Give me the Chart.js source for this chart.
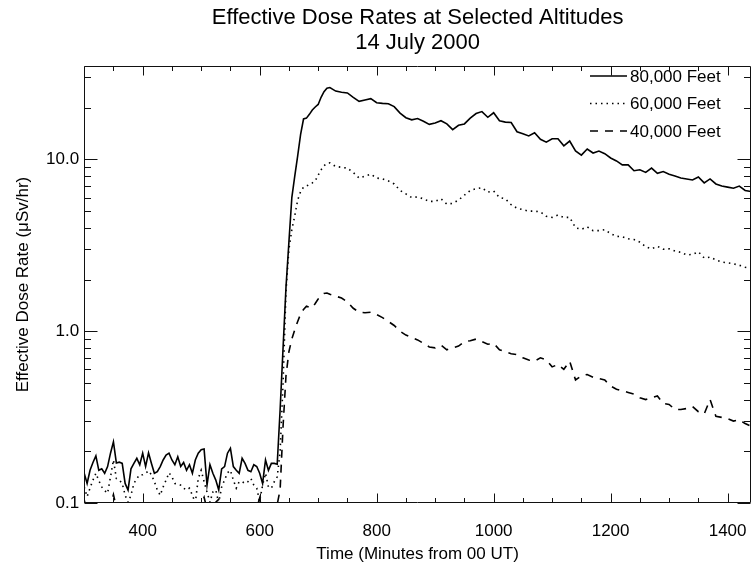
<!DOCTYPE html>
<html>
<head>
<meta charset="utf-8">
<title>Effective Dose Rates at Selected Altitudes</title>
<script src="https://cdn.jsdelivr.net/npm/chart.js@4.4.1/dist/chart.umd.min.js"></script>
<style>
  html, body { margin: 0; padding: 0; background: #fff; }
</style>
</head>
<body>
<canvas id="grafico" width="751" height="567"></canvas>
<script>
// minutos desde 00 UT (passo de 5 min ate 720, depois 10 min)
const minutos = [
  300, 305, 310, 315, 320, 325, 330, 335, 340, 345,
  350, 355, 360, 365, 370, 375, 380, 385, 390, 395,
  400, 405, 410, 415, 420, 425, 430, 435, 440, 445,
  450, 455, 460, 465, 470, 475, 480, 485, 490, 495,
  500, 505, 510, 515, 520, 525, 530, 535, 540, 545,
  550, 555, 560, 565, 570, 575, 580, 585, 590, 595,
  600, 605, 610, 615, 620, 625, 630, 635, 640, 645,
  650, 655, 660, 665, 670, 675, 680, 685, 690, 695,
  700, 705, 710, 715, 720,
  730, 740, 750, 760, 770, 780, 790, 800, 810, 820,
  830, 840, 850, 860, 870, 880, 890, 900, 910, 920,
  930, 940, 950, 960, 970, 980, 990, 1000, 1010, 1020,
  1030, 1040, 1050, 1060, 1070, 1080, 1090, 1100, 1110, 1120,
  1130, 1140, 1150, 1160, 1170, 1180, 1190, 1200, 1210, 1220,
  1230, 1240, 1250, 1260, 1270, 1280, 1290, 1300, 1310, 1320,
  1330, 1340, 1350, 1360, 1370, 1380, 1390, 1400, 1410, 1420,
  1430, 1440
];

// 80,000 pes (linha cheia)
const dose80k = [
  0.149, 0.130, 0.155, 0.172, 0.188, 0.155, 0.158, 0.149, 0.163, 0.195,
  0.227, 0.171, 0.173, 0.170, 0.130, 0.119, 0.158, 0.170, 0.182, 0.167,
  0.195, 0.163, 0.196, 0.170, 0.149, 0.152, 0.163, 0.178, 0.190, 0.195,
  0.178, 0.167, 0.186, 0.163, 0.172, 0.155, 0.167, 0.149, 0.178, 0.195,
  0.204, 0.206, 0.127, 0.167, 0.149, 0.136, 0.119, 0.158, 0.163, 0.195,
  0.208, 0.163, 0.155, 0.149, 0.182, 0.170, 0.155, 0.152, 0.167, 0.163,
  0.149, 0.130, 0.178, 0.155, 0.170, 0.170, 0.168,
  0.35, 0.8, 1.8, 3.3, 6.0, 8.0, 10.5, 14.0, 17.2, 17.4,
  18.3, 19.4, 20.2, 20.9, 23.0, 24.8, 26.0, 26.2,
  25.0, 24.6, 24.4, 23.0, 21.8, 22.2, 22.6, 21.4, 21.2, 21.1,
  20.3, 18.6, 17.5, 17.0, 17.3, 16.7, 16.0, 16.3, 16.8, 16.1,
  14.9, 15.8, 16.1, 17.4, 18.5, 19.0, 17.6, 18.7, 16.8, 16.5,
  16.4, 14.5, 14.1, 13.7, 14.3, 13.1, 12.6, 13.2, 13.2, 12.0,
  12.8, 11.2, 10.6, 11.5, 10.9, 11.2, 10.8, 10.2, 9.8, 9.3,
  9.3, 8.6, 8.7, 8.4, 8.9, 8.3, 8.5, 8.2, 8.0, 7.8,
  7.7, 7.6, 7.9, 7.3, 7.7, 7.2, 7.0, 6.9, 6.8, 7.0,
  6.6, 6.5
];

// 60,000 pes (pontilhado)
const dose60k = [
  0.124, 0.109, 0.122, 0.136, 0.149, 0.135, 0.124, 0.118, 0.114, 0.142,
  0.178, 0.139, 0.136, 0.130, 0.111, 0.101, 0.111, 0.130, 0.139, 0.146,
  0.146, 0.149, 0.154, 0.146, 0.133, 0.119, 0.111, 0.124, 0.136, 0.150,
  0.142, 0.130, 0.129, 0.127, 0.122, 0.119, 0.122, 0.111, 0.100, 0.139,
  0.155, 0.133, 0.116, 0.101, 0.116, 0.119, 0.100, 0.124, 0.136, 0.150,
  0.155, 0.136, 0.122, 0.133, 0.133, 0.130, 0.133, 0.139, 0.127, 0.122,
  0.102, 0.127, 0.149, 0.124, 0.122, 0.133, 0.142,
  0.2, 0.5, 1.7, 3.0, 3.9, 4.7, 5.8, 6.5, 6.9, 7.0,
  7.15, 7.3, 7.5, 8.1, 8.7, 9.2, 9.5, 9.55,
  9.1, 9.0, 8.9, 8.4, 7.8, 8.0, 8.2, 7.8, 7.7, 7.5,
  7.2, 6.6, 6.3, 6.0, 6.05, 5.9, 5.7, 5.7, 5.9, 5.5,
  5.55, 5.8, 6.2, 6.6, 6.75, 6.85, 6.45, 6.55, 6.0, 5.9,
  5.45, 5.2, 5.1, 5.0, 5.0, 4.95, 4.67, 4.6, 4.75, 4.6,
  4.6, 4.0, 3.92, 4.05, 3.85, 3.85, 3.9, 3.7, 3.57, 3.55,
  3.45, 3.42, 3.3, 3.1, 3.02, 3.12, 3.0, 3.02, 2.93, 2.88,
  2.78, 2.8, 2.9, 2.67, 2.7, 2.6, 2.53, 2.5, 2.47, 2.42,
  2.36, 2.32
];

// 40,000 pes (tracejado)
const dose40k = [
  0.104, 0.090, 0.086, 0.092, 0.094, 0.088, 0.085, 0.083, 0.087, 0.097,
  0.112, 0.094, 0.090, 0.088, 0.082, 0.080, 0.084, 0.090, 0.093, 0.092,
  0.095, 0.091, 0.096, 0.090, 0.086, 0.083, 0.085, 0.090, 0.094, 0.096,
  0.090, 0.088, 0.092, 0.087, 0.089, 0.085, 0.088, 0.084, 0.090, 0.097,
  0.099, 0.108, 0.092, 0.086, 0.089, 0.101, 0.105, 0.090, 0.092, 0.096,
  0.098, 0.090, 0.087, 0.086, 0.093, 0.090, 0.088, 0.087, 0.092, 0.094,
  0.107, 0.088, 0.095, 0.090, 0.093, 0.092, 0.098,
  0.12, 0.28, 0.55, 0.76, 0.9, 1.02, 1.14, 1.26, 1.34, 1.40,
  1.38, 1.37, 1.45, 1.54, 1.6, 1.66, 1.67, 1.64,
  1.60, 1.56, 1.48, 1.36, 1.29, 1.28, 1.29, 1.25, 1.20, 1.14,
  1.08, 1.00, 0.95, 0.92, 0.89, 0.85, 0.81, 0.80, 0.83, 0.78,
  0.80, 0.82, 0.87, 0.88, 0.90, 0.87, 0.84, 0.85, 0.78, 0.76,
  0.74, 0.73, 0.70, 0.68, 0.67, 0.70, 0.68, 0.62, 0.64, 0.60,
  0.67, 0.52, 0.55, 0.56, 0.54, 0.53, 0.52, 0.48, 0.46, 0.45,
  0.44, 0.43, 0.41, 0.40, 0.41, 0.42, 0.38, 0.375, 0.35, 0.35,
  0.355, 0.365, 0.34, 0.33, 0.40, 0.32, 0.315, 0.31, 0.30, 0.305,
  0.29, 0.28
];

const xTicks = [400, 600, 800, 1000, 1200, 1400];
const yTicks = [0.1, 1, 10];
const yTickLabels = ['0.1', '1.0', '10.0'];
const nomesSeries = ['80,000 Feet', '60,000 Feet', '40,000 Feet'];

const fonte = '"Liberation Sans", Arial, Helvetica, sans-serif';
Chart.defaults.font.family = fonte;
Chart.defaults.color = '#000';

const pontos = (serie) => minutos.map((m, i) => ({ x: m, y: serie[i] }));

// caixa estilo IDL com ticks para dentro nos quatro lados
const moldura = {
  id: 'moldura',
  afterDatasetsDraw(chart) {
    const { ctx, chartArea: a, scales: { x, y } } = chart;
    const L = Math.round(a.left) + 0.5, R = Math.round(a.right) - 0.5;
    const T = Math.round(a.top) + 0.5, B = Math.round(a.bottom) - 0.5;
    ctx.save();
    ctx.strokeStyle = '#111';
    ctx.lineWidth = 1;
    ctx.beginPath();
    ctx.rect(L, T, R - L, B - T);
    for (let v = 300; v <= 1440; v += 50) {
      const px = Math.round(x.getPixelForValue(v)) + 0.5;
      const len = v % 200 === 0 ? 9 : 4.5;
      ctx.moveTo(px, B); ctx.lineTo(px, B - len);
      ctx.moveTo(px, T); ctx.lineTo(px, T + len);
    }
    yTicks.forEach((d) => {
      for (let m = 1; m <= 9; m++) {
        const v = d * m;
        if (v > y.max) break;
        const py = Math.round(y.getPixelForValue(v)) + 0.5;
        const len = m === 1 ? 13 : 6.5;
        ctx.moveTo(L, py); ctx.lineTo(L + len, py);
        ctx.moveTo(R, py); ctx.lineTo(R - len, py);
      }
    });
    ctx.stroke();
    ctx.restore();
  }
};

// legenda dentro do grafico, canto superior direito
const legendaCaixa = {
  id: 'legendaCaixa',
  afterDraw(chart) {
    const { ctx, chartArea: a } = chart;
    ctx.save();
    ctx.font = '17px ' + fonte;
    ctx.textBaseline = 'middle';
    ctx.fillStyle = '#000';
    chart.data.datasets.forEach((ds, i) => {
      const yy = a.top + 10 + i * 27.5;
      const x0 = a.right - 161, x1 = a.right - 124;
      ctx.strokeStyle = ds.borderColor;
      ctx.lineWidth = ds.borderWidth;
      ctx.setLineDash(ds.borderDash || []);
      ctx.beginPath();
      ctx.moveTo(x0, yy);
      ctx.lineTo(x1, yy);
      ctx.stroke();
      ctx.setLineDash([]);
      ctx.fillText(ds.label, x1 + 3, yy + 1);
    });
    ctx.restore();
  }
};

const ctx = document.getElementById('grafico').getContext('2d');
const grafico = new Chart(ctx, {
  type: 'line',
  data: {
    datasets: [
      { label: nomesSeries[0], data: pontos(dose80k), borderColor: '#000', borderWidth: 1.6, borderDash: [] },
      { label: nomesSeries[1], data: pontos(dose60k), borderColor: '#000', borderWidth: 1.6, borderDash: [1.5, 4] },
      { label: nomesSeries[2], data: pontos(dose40k), borderColor: '#000', borderWidth: 1.6, borderDash: [8, 7] }
    ]
  },
  options: {
    responsive: false,
    animation: false,
    devicePixelRatio: 1,
    elements: { point: { radius: 0 }, line: { tension: 0, fill: false } },
    layout: { padding: { left: 4, right: 0, top: 0, bottom: 2 } },
    plugins: {
      legend: { display: false },
      tooltip: { enabled: false },
      title: {
        display: true,
        fullSize: false,
        text: ['Effective Dose Rates at Selected Altitudes', '14 July 2000'],
        color: '#000',
        font: { size: 22, weight: 'normal', lineHeight: 1.136 },
        padding: { top: 5.5, bottom: 10.5 }
      }
    },
    scales: {
      x: {
        type: 'linear',
        min: 300,
        max: 1440,
        grid: { display: false, drawTicks: false },
        border: { display: false },
        afterBuildTicks: (s) => { s.ticks = xTicks.map((v) => ({ value: v })); },
        // linha vazia no rotulo afasta o numero do eixo sem reservar espaco a direita
        ticks: { padding: 0, maxRotation: 0, autoSkip: false, font: { size: 17, lineHeight: 1.1 }, callback: (v) => ['', String(v)] },
        title: { display: true, text: 'Time (Minutes from 00 UT)', font: { size: 17 }, padding: { top: 4.2, bottom: 0 } }
      },
      y: {
        type: 'logarithmic',
        min: 0.1,
        max: 35,
        grid: { display: false, drawTicks: false },
        border: { display: false },
        afterBuildTicks: (s) => { s.ticks = yTicks.map((v) => ({ value: v })); },
        ticks: { padding: 5, autoSkip: false, font: { size: 17 }, callback: (v, i) => yTickLabels[i] },
        title: { display: true, text: 'Effective Dose Rate (\u03bcSv/hr)', font: { size: 17 }, padding: { top: 9, bottom: 7.7 } }
      }
    }
  },
  plugins: [moldura, legendaCaixa]
});
</script>
</body>
</html>
